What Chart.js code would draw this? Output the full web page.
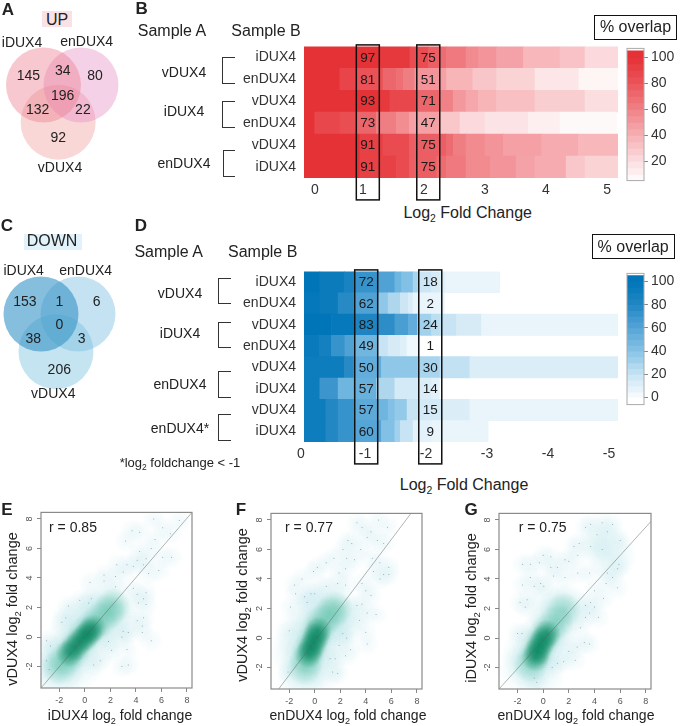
<!DOCTYPE html>
<html>
<head>
<meta charset="utf-8">
<title>DUX4 overlap</title>
<script src="https://cdn.jsdelivr.net/npm/chart.js@4"></script>
<style>
html, body { margin: 0; padding: 0; background: #fff; }
#page { position: relative; width: 680px; height: 726px; overflow: hidden; font-family: "Liberation Sans", Arial, sans-serif; color: #222; }
#page canvas { position: absolute; }
.txt { position: absolute; white-space: nowrap; transform: translate(-50%, -50%); line-height: 1; }
.bracket { position: absolute; border: 1.5px solid #333; border-right: none; box-sizing: border-box; }
.chip { position: absolute; }
.boxed { position: absolute; border: 1.5px solid #111; box-sizing: border-box; display: flex; align-items: center; justify-content: center; font-size: 16px; }
sub { font-size: .65em; line-height: 0; }
</style>
</head>
<body>
<div id="page"></div>
<script>
// Venn diagrams, circle centres in units of one radius
const vennUpX = [0, 1, 0.39];
const vennUpY = [0, 0, -0.99];
const vennUpCounts = [145, 34, 80, 196, 132, 22, 92];
const vennUpCountX = [-0.405, 0.512, 1.376, 0.512, -0.155, 1.05, 0.395];
const vennUpCountY = [0.24, 0.373, 0.24, -0.285, -0.667, -0.667, -1.405];

const vennDownX = [0, 0.987, 0.4];
const vennDownY = [0, 0, -1.005];
const vennDownCounts = [153, 1, 6, 0, 38, 3, 206];
const vennDownCountX = [-0.427, 0.488, 1.485, 0.488, -0.205, 1.085, 0.488];
const vennDownCountY = [0.328, 0.328, 0.328, -0.293, -0.675, -0.675, -1.493];

// Heatmap B (up): each row is a run of steps, edges in log2 fold change
const upRows = ['iDUX4', 'enDUX4', 'vDUX4', 'enDUX4', 'vDUX4', 'iDUX4'];
const upEdges = [
  [0.03, 1.28, 1.77, 2.07, 2.26, 2.37, 2.69, 2.89, 3.19, 3.63, 4.23, 4.64, 5.19],
  [0.03, 0.62, 0.90, 1.33, 1.55, 1.66, 1.85, 2.26, 2.37, 2.80, 3.19, 3.82, 4.54, 5.19],
  [0.03, 1.28, 1.44, 1.88, 2.26, 2.48, 2.69, 2.89, 3.19, 3.82, 4.64, 5.19],
  [0.03, 0.21, 0.62, 0.90, 1.22, 1.55, 1.76, 2.26, 2.59, 3.00, 3.71, 4.23, 5.16],
  [0.03, 0.95, 1.33, 1.76, 2.37, 2.48, 2.69, 3.00, 3.30, 3.93, 4.53, 5.19],
  [0.03, 0.95, 1.55, 1.76, 2.21, 2.37, 2.69, 3.09, 3.51, 3.82, 4.33, 4.64, 5.19]
];
const upValues = [
  [100, 96, 85, 76, 70, 64, 56, 52, 46, 37, 32, 22],
  [100, 90, 82, 72, 68, 62, 52, 47, 38, 31, 25, 16, 9],
  [100, 96, 88, 72, 60, 50, 44, 38, 33, 27, 20],
  [100, 88, 84, 73, 62, 55, 47, 30, 22, 17, 12, 7],
  [100, 92, 86, 76, 70, 62, 56, 52, 47, 42, 37],
  [100, 92, 86, 76, 70, 64, 56, 52, 46, 42, 30, 25]
];
const upCol1 = [97, 81, 93, 73, 91, 91];
const upCol2 = [75, 51, 71, 47, 75, 75];
const upTicks = ['0', '1', '2', '3', '4', '5'];

// Heatmap D (down): edges as distance below zero
const downRows = ['iDUX4', 'enDUX4', 'vDUX4', 'enDUX4', 'vDUX4', 'iDUX4', 'vDUX4', 'iDUX4'];
const downEdges = [
  [0, 0.26, 0.66, 0.82, 1.22, 1.49, 1.60, 1.79, 1.87, 2.09, 2.23, 2.32, 3.21],
  [0, 0.26, 0.56, 0.82, 1.22, 1.38, 1.58, 1.71, 1.79, 2.30],
  [0, 0.45, 0.82, 1.22, 1.49, 1.71, 1.86, 2.09, 2.23, 2.50, 2.91, 5.15],
  [0, 0.25, 0.45, 0.67, 0.82, 1.22, 1.38, 1.58, 1.69, 1.90],
  [0, 0.66, 0.82, 1.27, 1.87, 2.23, 2.72, 5.15],
  [0, 0.26, 0.56, 0.82, 1.19, 1.49, 1.87, 2.09, 2.22],
  [0, 0.36, 0.56, 0.82, 1.22, 1.38, 1.49, 1.69, 1.87, 2.28, 2.72, 5.15],
  [0, 0.36, 0.56, 0.82, 1.27, 1.49, 1.58, 1.79, 2.09, 3.02]
];
const downValues = [
  [100, 94, 86, 72, 62, 50, 42, 30, 18, 14, 10, 6],
  [98, 94, 78, 62, 38, 28, 18, 12, 6],
  [100, 97, 83, 76, 65, 55, 32, 24, 20, 14, 6],
  [95, 88, 72, 62, 49, 20, 14, 10, 4],
  [92, 78, 55, 38, 30, 22, 12],
  [92, 70, 50, 52, 28, 15, 12, 9],
  [92, 80, 72, 57, 50, 42, 36, 20, 15, 12, 6],
  [92, 80, 72, 60, 42, 32, 20, 9, 6]
];
const downCol1 = [72, 62, 83, 49, 50, 57, 57, 60];
const downCol2 = [18, 2, 24, 1, 30, 14, 15, 9];
const downTicks = ['0', '-1', '-2', '-3', '-4', '-5'];

// Colour bar steps
const upBarLevels = [5, 10, 15, 20, 25, 30, 35, 40, 45, 50, 55, 60, 65, 70, 75, 80, 85, 90, 95, 100];
const downBarLevels = [-5, 0, 5, 10, 15, 20, 25, 30, 35, 40, 45, 50, 55, 60, 65, 70, 75, 80, 85, 90, 95, 100];

// Scatter E: vDUX4 vs iDUX4
const eDotsX = [5.4, 7.4, 3.7, 4.3, 3.2, 5.5, 6.1, 6.7, 5.2, 4.3, 6.1, 6.8, 4.8, 4.1, 2.5, 3.3, 3.8, 4.6, 5.8, 5, 1.5, 2.4, 3, 0.4, 1.5, 2.4, 3.8, 4.1, 4.8, 4.6, 4.2, 4.8, -0.4, 0.3, 0.5, -1.3, -1.5, -1.8, 4.6, 4.1, 4.5, 4.5, 3, 3.4, 2.9, 5.2, 3.3, 1.85, 2.1, 1.2, 0.7, 2.9, 3.4, -3, -2.7, -3, -2.8];
const eDotsY = [8, 7.9, 7.2, 7.1, 6.5, 6.6, 7.4, 7, 6, 5.8, 5.4, 5.4, 5.3, 5.2, 4.9, 4.9, 4.8, 4.9, 4.5, 4.3, 4.2, 4.1, 4.4, 3.7, 3.8, 3.4, 3.3, 2.9, 3, 2.6, 2.3, 2.2, 2.5, 2.3, 2.6, 2.1, 1.3, 1, 1.3, 1.1, 0.75, 0.3, 0.4, 0.3, 0, -0.25, -0.85, -0.3, -0.9, -1.6, -1.9, -2, -1.9, -0.25, -0.6, -1.6, -2.2];
const eCoreX = [-1.2, -0.8, -0.4, 0, 0.3, 0.6];
const eCoreY = [-1.1, -0.7, -0.3, 0, 0.3, 0.6];
const eMidX = [-2, -1.5, -1, -0.5, 0, 0.6, 1.2, 1.8, 2.2];
const eMidY = [-2, -1.5, -1, -0.4, 0.2, 0.7, 1.2, 1.7, 2.1];
const eHazeX = [-2, -1.5, -0.6, -0.8, 0.8, 1.2, -2.2, 2.4, 0];
const eHazeY = [-2.7, -0.8, -1.9, 0.9, -0.5, 2, -1.6, 0.8, 1.2];
const eLineX = [-3.44, 8.4];
const eLineY = [-3.45, 8.44];

// Scatter F: vDUX4 vs enDUX4
const fDotsX = [3.3, 5, 5.7, 3.7, 4.4, 4.1, 4.9, 2.6, 2.9, 5.4, 2.2, 3.6, 1.5, 2.5, 3.1, 4.5, 0.9, 5.8, 5.1, 0.2, -0.1, 1.9, 2.4, 4.6, 5.8, 5.4, 5.1, -1, -1.6, 0.9, 1.8, 2.4, 3.7, -1.5, -0.8, -0.3, 0, 4, 4.4, -0.6, -1.9, 3.3, 3.7, 4.1, 4.8, 3.5, 4, 4.1, -2, 2.2, 2.5, 1.9, 2.8, 2.4, 1.2, 1.6, 1.4, 1.8, -2.1];
const fDotsY = [7.8, 8, 7.5, 7.5, 7.2, 6.8, 6.6, 6.6, 6.4, 6.4, 6, 6, 5.4, 5.4, 5.3, 5.4, 5.1, 4.8, 5.1, 4.8, 4.5, 4.4, 4.7, 4.5, 4.3, 4.3, 4, 4, 3.6, 3.5, 3.7, 3.6, 3.7, 3, 2.8, 3, 3, 3.2, 2.9, 2.4, 2.1, 2.2, 2.3, 1.7, 1.6, 1.2, 0.4, -0.4, 0.5, 0.3, 0, -0.5, -0.8, -1.2, -1.4, -1.4, -2.3, -2.4, -2.3];
const fCoreX = [-0.5, -0.3, -0.1, 0.1, 0.25];
const fCoreY = [-1.1, -0.7, -0.3, 0.1, 0.5];
const fMidX = [-0.8, -0.6, -0.4, -0.1, 0.2, 0.6, 1.2, 1.6];
const fMidY = [-2, -1.4, -0.8, -0.2, 0.5, 1.1, 1.6, 2];
const fHazeX = [-1, -1.5, -1.2, 1, 0.5, 1.6, 2.2, -0.3, 0.4];
const fHazeY = [-2.7, -1, 0.2, 0, 2.5, 1, 1.2, 1.5, -2];
const fLineX = [-2.83, 7.5];
const fLineY = [-3.45, 8.4];

// Scatter G: iDUX4 vs enDUX4
const gDotsX = [3.3, 3.7, 4.6, 5.4, 5, 4.2, 6, 2.8, 2.4, 3.7, 4.6, 2.7, 0, 0.6, 1.7, 2, -1.6, -1, -0.3, 0.6, 1.1, 5.9, 5.8, 2.7, 3.6, 5, 5.4, 0.8, 1.7, -1, -1.6, -0.2, 0.05, -0.7, 4.9, 5.8, 4, 4.7, -1.25, -1.8, -1.4, 3.7, 3.3, 4, 3.6, 4.3, 2.9, 3.3, -2, -1.65, 3.2, 3.6, 2.65, 2, 2.5, 1.6, 1.1, 0.7, -0.7, -0.5];
const gDotsY = [7.5, 7.7, 7.8, 7.7, 7.2, 7, 6.6, 6.4, 6.2, 6.2, 6, 5.6, 5.6, 5.5, 5.3, 5.2, 5, 5, 5.1, 4.8, 4.8, 5, 4.7, 4.4, 4.4, 4.4, 4.1, 4.2, 4.1, 4.1, 3.6, 3.7, 3.5, 3.5, 3.7, 3.4, 3.2, 2.7, 2.6, 2.4, 2.1, 2.4, 2.2, 2.1, 1.7, 1.4, 0.7, 1.4, 0.3, 0.3, -0.3, -0.4, -0.6, -0.9, -1.5, -1.6, -1.7, -2, -2.7, -3];
const gCoreX = [-0.6, -0.45, -0.25, 0, 0.3];
const gCoreY = [-1.3, -0.9, -0.5, -0.1, 0.3];
const gMidX = [-1, -0.6, -0.3, 0, 0.4, 1, 1.6];
const gMidY = [-1.8, -1.2, -0.6, 0, 0.5, 1.1, 1.9];
const gHazeX = [-1.2, -1.5, -0.3, 1, 0.5, 1.7, 4.7, 5.3];
const gHazeY = [-1, -2, -2.4, -0.5, 2, 2, 6.5, 5.5];
const gLineX = [-3.44, 8.4];
const gLineY = [-3.45, 7.9];

const scatterTickFont = { size: 9, family: 'Liberation Sans' };
const FONT = 'Liberation Sans';
const page = document.getElementById('page');

function addText(x, y, html, size, extra) {
  const d = document.createElement('div');
  d.className = 'txt';
  d.style.left = x + 'px';
  d.style.top = y + 'px';
  d.style.fontSize = size + 'px';
  d.innerHTML = html;
  if (extra && extra.bold) d.style.fontWeight = 'bold';
  if (extra && extra.rotate) d.style.transform = 'translate(-50%, -50%) rotate(-90deg)';
  page.appendChild(d);
}

function addChip(x, y, w, h, color) {
  const d = document.createElement('div');
  d.className = 'chip';
  d.style.cssText = `left:${x}px;top:${y}px;width:${w}px;height:${h}px;background:${color}`;
  page.appendChild(d);
}

function addBracket(x, y, w, h) {
  const d = document.createElement('div');
  d.className = 'bracket';
  d.style.cssText = `left:${x}px;top:${y}px;width:${w}px;height:${h}px`;
  page.appendChild(d);
}

function addBoxed(x, y, w, h, text) {
  const d = document.createElement('div');
  d.className = 'boxed';
  d.style.cssText = `left:${x}px;top:${y}px;width:${w}px;height:${h}px`;
  d.textContent = text;
  page.appendChild(d);
}

function addCanvas(left, top, width, height) {
  const c = document.createElement('canvas');
  c.width = width;
  c.height = height;
  c.style.left = left + 'px';
  c.style.top = top + 'px';
  c.style.width = width + 'px';
  c.style.height = height + 'px';
  page.appendChild(c);
  return c;
}

const baseOptions = {
  responsive: false,
  animation: false,
  events: [],
  plugins: { legend: { display: false }, tooltip: { enabled: false } }
};

// colours of the two heatmaps
function lerp(a, b, t) { return Math.round(a + (b - a) * t); }
function rampColor(stops, v) {
  if (v <= stops[0][0]) return `rgb(${stops[0][1]},${stops[0][2]},${stops[0][3]})`;
  for (let i = 1; i < stops.length; i++) {
    if (v <= stops[i][0]) {
      const a = stops[i - 1], b = stops[i];
      const t = (v - a[0]) / (b[0] - a[0]);
      return `rgb(${lerp(a[1], b[1], t)},${lerp(a[2], b[2], t)},${lerp(a[3], b[3], t)})`;
    }
  }
  const l = stops[stops.length - 1];
  return `rgb(${l[1]},${l[2]},${l[3]})`;
}
const redStops = [[4, 255, 255, 255], [20, 251, 222, 224], [40, 246, 176, 180], [60, 240, 130, 135], [80, 234, 85, 90], [100, 229, 50, 55]];
const blueStops = [[-2, 255, 255, 255], [6, 234, 245, 251], [20, 200, 228, 244], [40, 135, 196, 230], [60, 85, 165, 215], [80, 35, 135, 195], [100, 0, 118, 185]];

function venn(left, top, xs, ys, xRange, yRange, colors, counts, countX, countY) {
  const c = addCanvas(left, top, 140, 150);
  const labelPlugin = {
    id: 'vennCounts',
    afterDatasetsDraw(chart) {
      const g = chart.ctx;
      g.save();
      g.fillStyle = '#222';
      g.font = '14px ' + FONT;
      g.textAlign = 'center';
      g.textBaseline = 'middle';
      counts.forEach((n, i) => {
        g.fillText(String(n), chart.scales.x.getPixelForValue(countX[i]), chart.scales.y.getPixelForValue(countY[i]));
      });
      g.restore();
    }
  };
  new Chart(c, {
    type: 'bubble',
    data: {
      datasets: xs.map((x, i) => ({
        data: [{ x: x, y: ys[i], r: 37.5 }],
        backgroundColor: colors[i],
        borderWidth: 0,
        clip: false
      }))
    },
    options: Object.assign({}, baseOptions, {
      layout: { padding: 0, autoPadding: false },
      scales: {
        x: { display: false, min: xRange[0], max: xRange[1] },
        y: { display: false, min: yRange[0], max: yRange[1] }
      }
    }),
    plugins: [labelPlugin]
  });
}

function heatmap(cfg) {
  const c = addCanvas(cfg.left, cfg.top, cfg.width, cfg.height);
  // duplicate row names would confuse the category scale, so the labels get an id
  const rowIds = cfg.rows.map((name, r) => r + ':' + name);
  const cells = [];
  cfg.rows.forEach((name, r) => {
    cfg.values[r].forEach((v, i) => {
      cells.push({ x: [cfg.sign * cfg.edges[r][i], cfg.sign * cfg.edges[r][i + 1]], y: rowIds[r], value: v });
    });
  });
  const overlay = {
    id: 'columns',
    afterDatasetsDraw(chart) {
      const g = chart.ctx;
      const xs = chart.scales.x, ys = chart.scales.y;
      g.save();
      g.font = '13.5px ' + FONT;
      g.textAlign = 'center';
      g.textBaseline = 'middle';
      g.fillStyle = '#1a1a1a';
      cfg.columns.forEach((col, k) => {
        const px = xs.getPixelForValue(cfg.sign * cfg.boxAt[k]);
        col.forEach((n, r) => g.fillText(String(n), px, ys.getPixelForValue(r) + 0.5));
        g.strokeStyle = '#111';
        g.lineWidth = 1.5;
        g.strokeRect(px - 11.5, chart.chartArea.top - 1.5, 23, cfg.boxHeight);
      });
      g.restore();
    }
  };
  new Chart(c, {
    type: 'bar',
    data: {
      labels: rowIds,
      datasets: [{
        data: cells,
        backgroundColor: ctx => rampColor(cfg.stops, ctx.raw.value),
        borderWidth: 0,
        grouped: false,
        barPercentage: 1,
        categoryPercentage: 1
      }]
    },
    options: Object.assign({}, baseOptions, {
      indexAxis: 'y',
      layout: { padding: { top: 10, right: cfg.rightPad, left: 0, bottom: 0 } },
      scales: {
        x: {
          type: 'linear',
          min: cfg.xMin,
          max: cfg.xMax,
          reverse: cfg.sign < 0,
          grid: { display: false, drawTicks: false },
          border: { display: false },
          afterFit: s => { s.height = cfg.axisHeight; },
          afterBuildTicks: s => { s.ticks = cfg.tickAt.map(v => ({ value: v })); },
          ticks: {
            autoSkip: false,
            maxRotation: 0,
            padding: 4,
            color: '#333',
            font: { size: 14, family: FONT },
            callback: (v, i) => cfg.tickLabels[i]
          }
        },
        y: {
          grid: { display: false, drawTicks: false },
          border: { display: false },
          afterFit: s => { s.width = 64; },
          ticks: {
            padding: 8,
            color: '#333',
            font: { size: 14, family: FONT },
            autoSkip: false,
            callback: (v, i) => cfg.rows[i]
          }
        }
      }
    }),
    plugins: [overlay]
  });
}

function colorBar(cfg) {
  const c = addCanvas(620, cfg.top, 60, cfg.height);
  const frame = {
    id: 'barFrame',
    afterDatasetsDraw(chart) {
      const a = chart.chartArea, g = chart.ctx;
      g.save();
      g.strokeStyle = '#aaa';
      g.lineWidth = 1;
      g.strokeRect(a.left, a.top, a.right - a.left, a.bottom - a.top);
      g.restore();
    }
  };
  new Chart(c, {
    type: 'bar',
    data: {
      labels: ['%'],
      datasets: [{
        data: cfg.levels.map(l => ({ x: 0, y: [l, l + 5.2], value: l + 2.5 })),
        backgroundColor: ctx => rampColor(cfg.stops, ctx.raw.value),
        borderWidth: 0,
        grouped: false,
        barPercentage: 1,
        categoryPercentage: 1
      }]
    },
    options: Object.assign({}, baseOptions, {
      layout: { padding: { left: 7, top: 10, bottom: 10, right: 0 } },
      scales: {
        x: { display: false },
        y: {
          position: 'right',
          min: cfg.min,
          max: cfg.max,
          grid: { drawOnChartArea: false, tickLength: 4, color: '#888' },
          border: { display: false },
          afterFit: s => { s.width = 36; },
          ticks: { stepSize: 20, includeBounds: false, padding: 3, color: '#333', font: { size: 14, family: FONT } }
        }
      }
    }),
    plugins: [frame]
  });
}

// soft round stamp used to build up the smoothed density
function sprite(rgb, radius, alpha) {
  const s = document.createElement('canvas');
  s.width = s.height = radius * 2;
  const g = s.getContext('2d');
  const grad = g.createRadialGradient(radius, radius, 0, radius, radius, radius);
  grad.addColorStop(0, `rgba(${rgb},${alpha})`);
  grad.addColorStop(0.55, `rgba(${rgb},${alpha * 0.55})`);
  grad.addColorStop(1, `rgba(${rgb},0)`);
  g.fillStyle = grad;
  g.fillRect(0, 0, radius * 2, radius * 2);
  return s;
}
const spriteDot = sprite('215,238,243', 12, 0.33);
const spriteHaze = sprite('195,232,236', 26, 0.4);
const spriteMid = sprite('85,190,160', 18, 0.42);
const spriteCore = sprite('0,130,90', 14, 0.6);

function pts(xs, ys) { return xs.map((x, i) => ({ x: x, y: ys[i] })); }

function density(cfg) {
  const W = cfg.right - cfg.left, H = cfg.bottom - cfg.top;
  const c = addCanvas(cfg.left - 30, cfg.top - 6, W + 36, H + 36);
  const frame = {
    id: 'frame',
    afterDatasetsDraw(chart) {
      const a = chart.chartArea, g = chart.ctx;
      g.save();
      g.strokeStyle = '#8a8a8a';
      g.lineWidth = 1.2;
      g.strokeRect(a.left, a.top, a.right - a.left, a.bottom - a.top);
      g.restore();
    }
  };
  const stamp = (xs, ys, img) => ({ data: pts(xs, ys), pointStyle: img, pointRadius: 5, showLine: false });
  // first dataset is painted last
  new Chart(c, {
    type: 'scatter',
    data: {
      datasets: [
        { data: pts(cfg.lineX, cfg.lineY), pointRadius: 0, showLine: true, borderColor: 'rgba(90,100,100,.6)', borderWidth: 0.8 },
        { data: pts(cfg.dotsX, cfg.dotsY), pointRadius: 0.5, pointBackgroundColor: 'rgba(70,100,100,.6)', pointBorderWidth: 0, showLine: false },
        stamp(cfg.coreX, cfg.coreY, spriteCore),
        stamp(cfg.midX, cfg.midY, spriteMid),
        stamp(cfg.midX, cfg.midY, spriteHaze),
        stamp(cfg.hazeX, cfg.hazeY, spriteHaze),
        stamp(cfg.dotsX, cfg.dotsY, spriteDot)
      ]
    },
    options: Object.assign({}, baseOptions, {
      layout: { padding: { top: 6, right: 6, left: 0, bottom: 0 }, autoPadding: false },
      scales: {
        x: {
          min: cfg.xMin, max: cfg.xMax,
          grid: { drawOnChartArea: false, tickLength: 4, color: '#888' },
          border: { display: false },
          afterFit: s => { s.height = 30; },
          ticks: { stepSize: 2, includeBounds: false, maxRotation: 0, padding: 3, color: '#555', font: scatterTickFont }
        },
        y: {
          min: -3.45, max: cfg.yMax,
          grid: { drawOnChartArea: false, tickLength: 4, color: '#888' },
          border: { display: false },
          afterFit: s => { s.width = 30; },
          ticks: { stepSize: 2, includeBounds: false, minRotation: 90, maxRotation: 90, crossAlign: 'center', padding: 3, color: '#555', font: scatterTickFont }
        }
      }
    }),
    plugins: [frame]
  });
}

// Panel A
addChip(42, 11, 30, 16, '#fae1e6');
addText(57, 20, 'UP', 16);
venn(0, 30, vennUpX, vennUpY, [-1.16, 2.573], [-2.533, 1.467],
  ['rgba(236,125,140,.42)', 'rgba(228,135,195,.38)', 'rgba(240,150,150,.38)'],
  vennUpCounts, vennUpCountX, vennUpCountY);
addText(22, 42, 'iDUX4', 14);
addText(86.7, 41, 'enDUX4', 14);
addText(60, 166.7, 'vDUX4', 14);

// Panel B
heatmap({
  left: 240, top: 30, width: 390, height: 172, rightPad: 12, axisHeight: 24,
  rows: upRows, edges: upEdges, values: upValues, sign: 1, stops: redStops,
  xMin: 0.033, xMax: 5.18, tickAt: [0.21, 1, 2, 3, 4, 5], tickLabels: upTicks,
  columns: [upCol1, upCol2], boxAt: [1.079, 2.07], boxHeight: 155
});
colorBar({ top: 37, height: 155, levels: upBarLevels, stops: redStops, min: 5.2, max: 107 });
addText(172, 30.7, 'Sample A', 16);
addText(266, 30.7, 'Sample B', 16);
addText(184, 71.7, 'vDUX4', 14);
addText(184, 111, 'iDUX4', 14);
addText(184, 163, 'enDUX4', 14);
addBracket(221.7, 56.7, 13, 27);
addBracket(221.7, 100.7, 13, 27);
addBracket(222.7, 150, 12, 27);
addText(467.7, 213, 'Log<sub>2</sub> Fold Change', 16);
addBoxed(594, 15, 83, 24.5, '% overlap');

// Panel C
addChip(24, 234, 58, 16, '#e1f2fa');
addText(52, 241, 'DOWN', 16);
venn(0, 260, vennDownX, vennDownY, [-1.093, 2.64], [-2.56, 1.44],
  ['rgba(60,150,200,.62)', 'rgba(125,190,225,.45)', 'rgba(125,195,225,.45)'],
  vennDownCounts, vennDownCountX, vennDownCountY);
addText(23.7, 270, 'iDUX4', 14);
addText(85.7, 270, 'enDUX4', 14);
addText(53.3, 393.3, 'vDUX4', 14);

// Panel D
heatmap({
  left: 240, top: 255, width: 390, height: 215, rightPad: 12, axisHeight: 28,
  rows: downRows, edges: downEdges, values: downValues, sign: -1, stops: blueStops,
  xMin: -5.148, xMax: 0, tickAt: [0.05, -1, -2, -3, -4, -5], tickLabels: downTicks,
  columns: [downCol1, downCol2], boxAt: [1.02, 2.07], boxHeight: 194
});
colorBar({ top: 262, height: 154, levels: downBarLevels, stops: blueStops, min: -6, max: 107 });
addText(168.7, 251.7, 'Sample A', 16);
addText(262.7, 251.7, 'Sample B', 16);
addText(180, 293.3, 'vDUX4', 14);
addText(180, 332.7, 'iDUX4', 14);
addText(180, 384.3, 'enDUX4', 14);
addText(180, 428.3, 'enDUX4*', 14);
addBracket(218.3, 278.3, 13, 26);
addBracket(218.3, 322.3, 13, 26);
addBracket(218.3, 371, 13, 27);
addBracket(218.3, 414.3, 13, 26.5);
addText(180, 462, '*log<sub>2</sub> foldchange &lt; -1', 13);
addText(464, 485, 'Log<sub>2</sub> Fold Change', 16);
addBoxed(591.7, 234, 83, 25, '% overlap');

// Panels E, F, G
density({
  left: 41, right: 192, top: 510, bottom: 688, xMin: -3.44, xMax: 8.4, yMax: 8.44,
  dotsX: eDotsX, dotsY: eDotsY, coreX: eCoreX, coreY: eCoreY, midX: eMidX, midY: eMidY,
  hazeX: eHazeX, hazeY: eHazeY, lineX: eLineX, lineY: eLineY
});
density({
  left: 271, right: 422, top: 511, bottom: 689, xMin: -3.43, xMax: 8.4, yMax: 8.44,
  dotsX: fDotsX, dotsY: fDotsY, coreX: fCoreX, coreY: fCoreY, midX: fMidX, midY: fMidY,
  hazeX: fHazeX, hazeY: fHazeY, lineX: fLineX, lineY: fLineY
});
density({
  left: 499, right: 651, top: 511, bottom: 689, xMin: -3.44, xMax: 8.4, yMax: 8.44,
  dotsX: gDotsX, dotsY: gDotsY, coreX: gCoreX, coreY: gCoreY, midX: gMidX, midY: gMidY,
  hazeX: gHazeX, hazeY: gHazeY, lineX: gLineX, lineY: gLineY
});

addText(73, 527, 'r = 0.85', 14);
addText(309, 527, 'r = 0.77', 14);
addText(542.7, 527, 'r = 0.75', 14);
addText(120, 715, 'iDUX4 log<sub>2</sub> fold change', 14);
addText(348, 715, 'enDUX4 log<sub>2</sub> fold change', 14);
addText(576, 715, 'enDUX4 log<sub>2</sub> fold change', 14);
addText(11.7, 609, 'vDUX4 log<sub>2</sub> fold change', 14.5, { rotate: true });
addText(242, 605, 'vDUX4 log<sub>2</sub> fold change', 14.5, { rotate: true });
addText(470.7, 608, 'iDUX4 log<sub>2</sub> fold change', 14.5, { rotate: true });

// Panel letters
addText(8, 9, 'A', 17, { bold: true });
addText(141.7, 8, 'B', 17, { bold: true });
addText(7, 225, 'C', 17, { bold: true });
addText(141, 225, 'D', 17, { bold: true });
addText(7, 509, 'E', 17, { bold: true });
addText(241, 509, 'F', 17, { bold: true });
addText(471, 509, 'G', 17, { bold: true });
</script>
</body>
</html>
